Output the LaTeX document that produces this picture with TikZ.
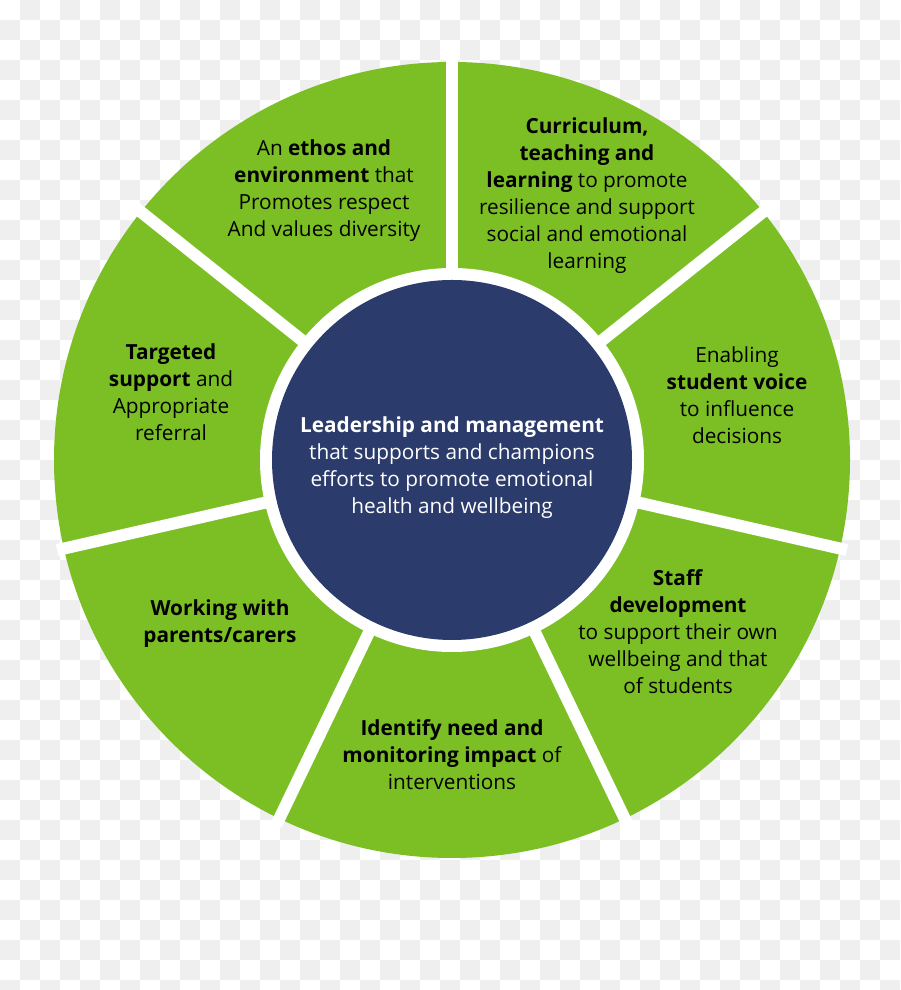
\documentclass[tikz,border=0pt]{standalone}
\usepackage{fontspec}
\setmainfont{Open Sans}
\usepackage{xcolor}
\usetikzlibrary{calc}
\definecolor{wheelgreen}{HTML}{7BBF24}
\definecolor{hubnavy}{HTML}{2B3B6B}
\definecolor{checkgray}{HTML}{EFEFEF}

\begin{document}
\begin{tikzpicture}[x=0.5pt,y=0.5pt,line join=round,
    segtext/.style={align=center,font=\fontsize{10.4}{13.5}\selectfont,text=black,inner sep=0pt},
    hubtext/.style={segtext,text=white},
    divider/.style={white,line width=6pt}]
    % ============ Canvas with the checkerboard backdrop ============
    \useasboundingbox (0,0) rectangle (900,990);
    \clip (0,0) rectangle (900,990);
    \fill[white] (0,0) rectangle (900,990);
    \foreach \i in {0,...,44}{
      \foreach \j in {0,...,49}{
        \pgfmathtruncatemacro{\odd}{mod(\i+\j,2)}
        \ifnum\odd=1
          \fill[checkgray] (20*\i,990-20*\j) rectangle ++(20,-20);
        \fi
      }
    }
    % ============ Wheel: green disc, seven dividers, navy hub ============
    \coordinate (C) at (452,530);
    \fill[wheelgreen] (C) circle (398);
    \foreach \k in {0,...,6}
      \draw[divider] ($(C)+({90-\k*360/7}:186)$) -- ($(C)+({90-\k*360/7}:405)$);
    \fill[white] (C) circle (192);
    \fill[hubnavy] (C) circle (180);
    % ============ Segment texts ============
    \node[segtext] (ethos) at (324,799.5)
      {An \textbf{ethos and}\\ \textbf{environment} that\\ Promotes respect\\ And values diversity};
    \node[segtext] (curric) at (587,794)
      {\textbf{Curriculum,}\\ \textbf{teaching and}\\ \textbf{learning} to promote\\ resilience and support\\ social and emotional\\ learning};
    \node[segtext] (voice) at (737,595)
      {Enabling\\ \textbf{student voice}\\ to influence\\ decisions};
    \node[segtext] (staff) at (678,358)
      {\textbf{Staff}\\ \textbf{development}\\ to support their own\\ wellbeing and that\\ of students};
    \node[segtext] (impact) at (452,235)
      {\textbf{Identify need and}\\ \textbf{monitoring impact} of\\ interventions};
    \node[segtext] (parents) at (220,366)
      {\textbf{Working with}\\ \textbf{parents/carers}};
    \node[segtext] (support) at (171,597.5)
      {\textbf{Targeted}\\ \textbf{support} and\\ Appropriate\\ referral};
    % ============ Hub text ============
    \node[hubtext] (lead) at (452,522.5)
      {\textbf{Leadership and management}\\ that supports and champions\\ efforts to promote emotional\\ health and wellbeing};
\end{tikzpicture}
\end{document}
